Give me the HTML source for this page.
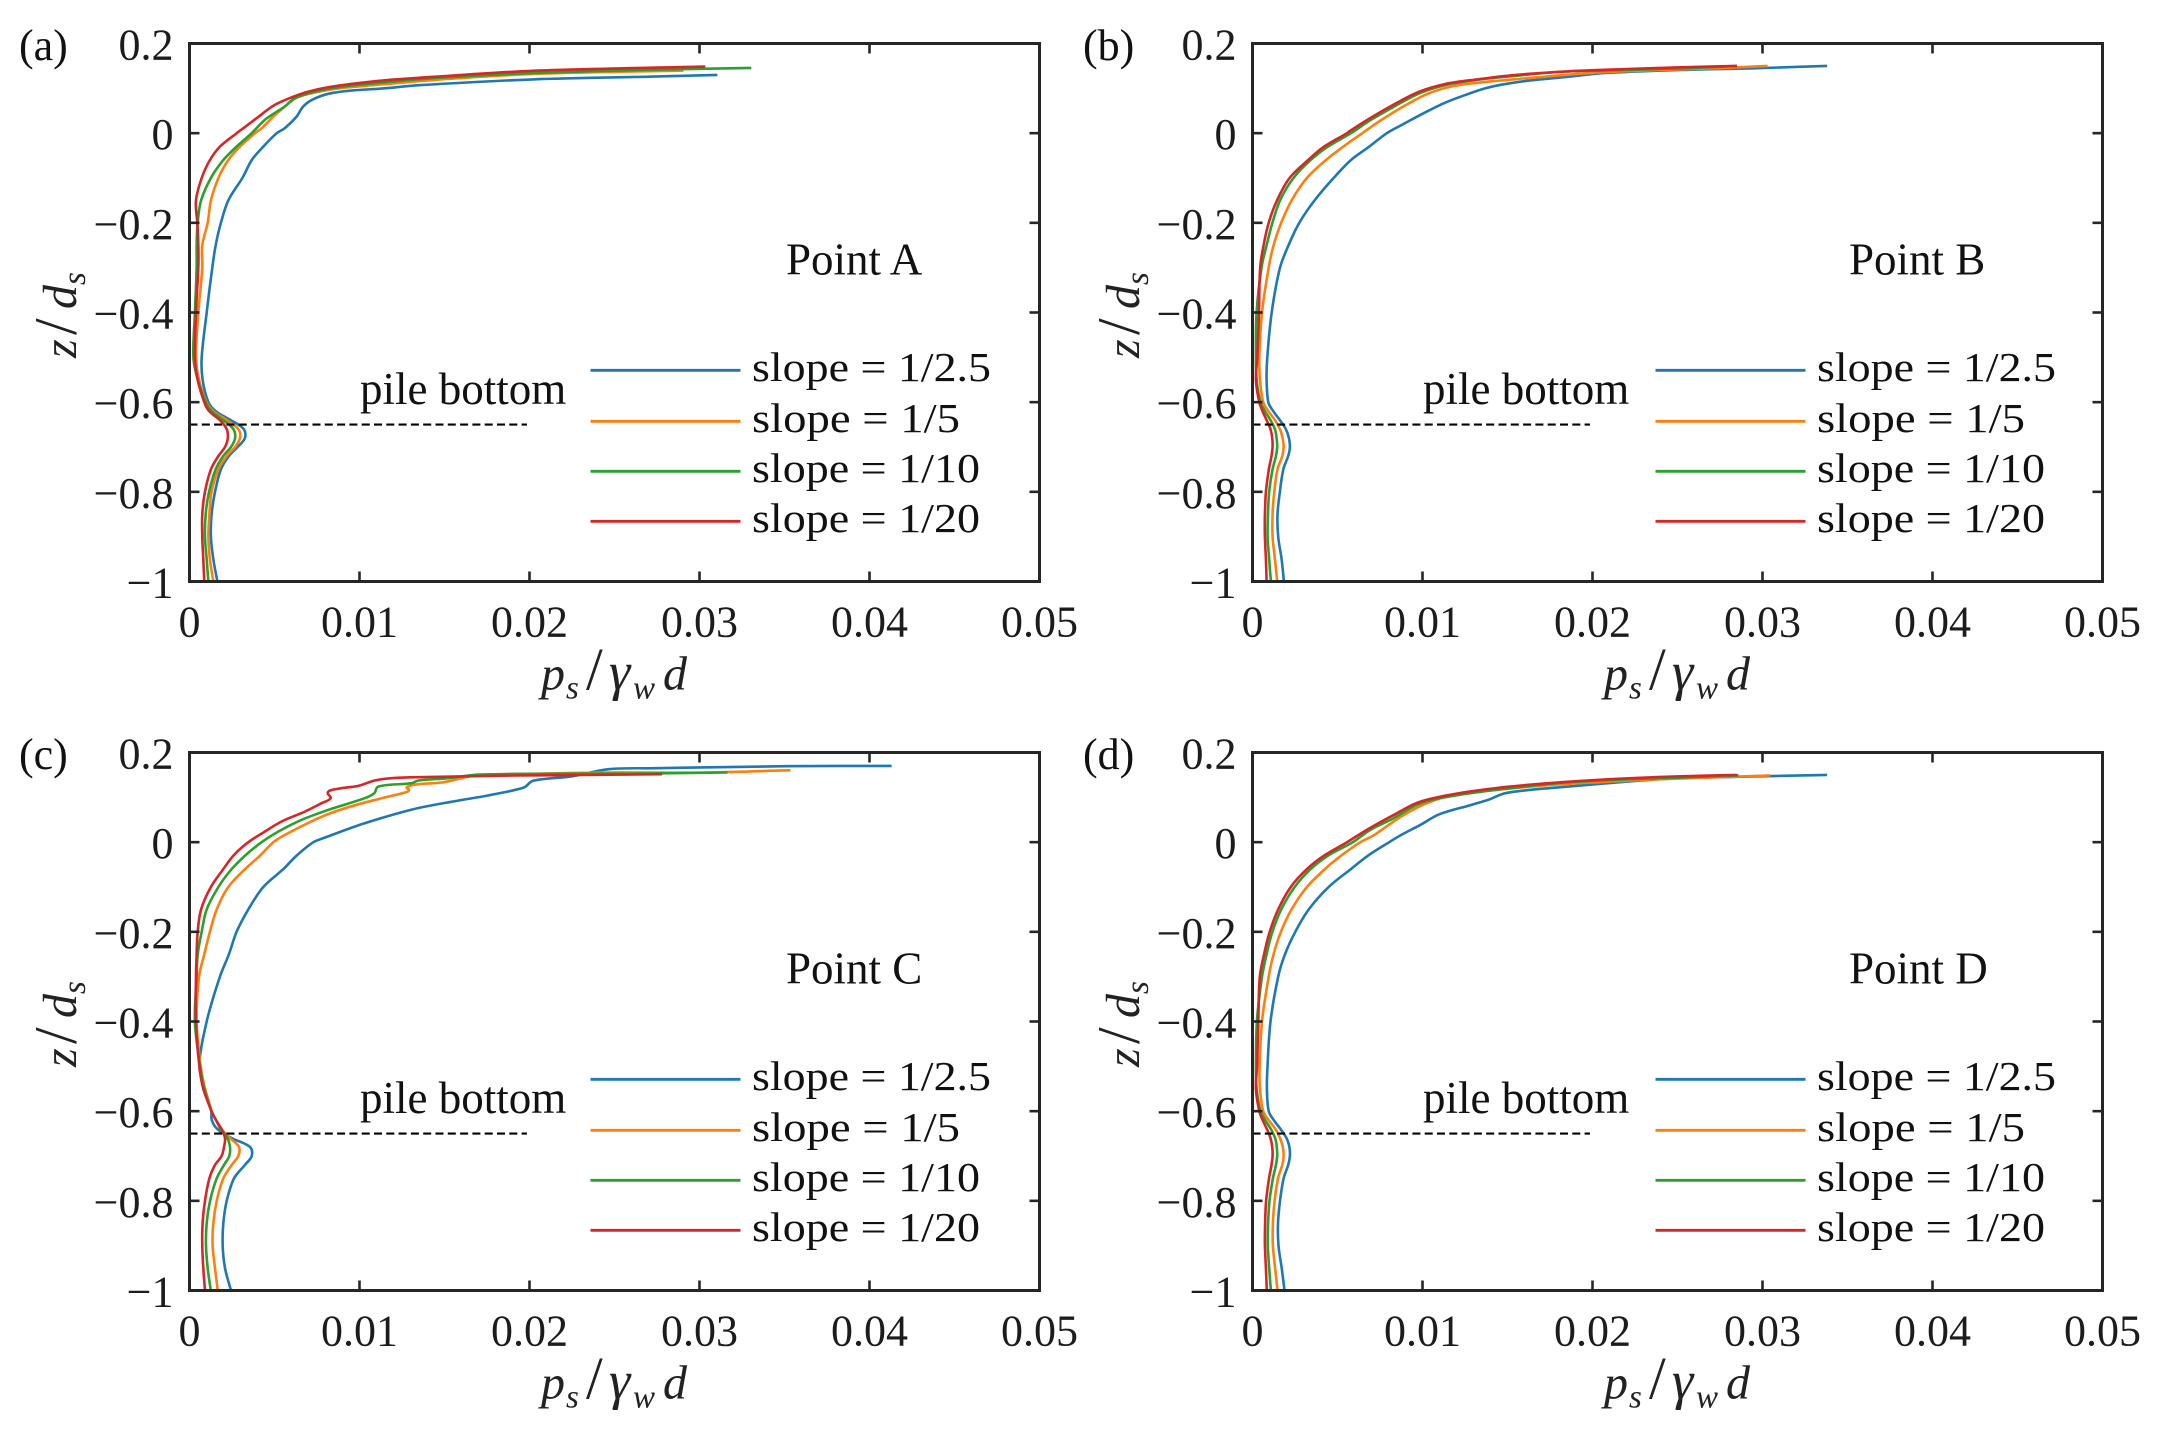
<!DOCTYPE html>
<html lang="en">
<head>
<meta charset="utf-8">
<title>Pile pressure profiles</title>
<style>
html,body{margin:0;padding:0;background:#fff;}
svg{display:block;}
text{font-family:"Liberation Serif",serif;fill:#111;}
.tick{font-size:44px;fill:#1c1c1c;}
.note{font-size:44px;}
.pt{font-size:45px;}
.pile{font-size:45px;}
.leg{font-size:41px;}
.it{font-style:italic;font-size:48px;fill:#222;}
.gam{font-style:italic;font-size:54px;fill:#222;}
.sub{font-style:italic;font-size:33px;fill:#222;}
.sl{font-size:60px;fill:#222;}
</style>
</head>
<body>
<svg id="figure" xmlns="http://www.w3.org/2000/svg" width="2159" height="1429" viewBox="0 0 2159 1429">
<rect width="2159" height="1429" fill="#fff"/>

<g id="panel-a" transform="translate(0,0)">
  <text class="note" x="19" y="60">(a)</text>
  <text class="pt" x="786" y="274.5">Point A</text>
  <text class="pile" x="360" y="404">pile bottom</text>
  <text class="leg" x="752" y="381" textLength="239" lengthAdjust="spacingAndGlyphs">slope = 1/2.5</text>
  <text class="leg" x="752" y="432" textLength="208" lengthAdjust="spacingAndGlyphs">slope = 1/5</text>
  <text class="leg" x="752" y="482" textLength="228" lengthAdjust="spacingAndGlyphs">slope = 1/10</text>
  <text class="leg" x="752" y="532" textLength="228" lengthAdjust="spacingAndGlyphs">slope = 1/20</text>
  <text y="689.5"><tspan class="it" x="541">p</tspan><tspan class="sub" x="566" dy="9">s</tspan><tspan class="sl" x="586" dy="-9">/</tspan><tspan class="gam" x="609">γ</tspan><tspan class="sub" x="633" dy="9">w</tspan><tspan class="it" x="663" dy="-9">d</tspan></text>
  <text transform="translate(76,358) rotate(-90)"><tspan class="it" x="0" y="0">z</tspan><tspan class="sl" x="23">/</tspan><tspan class="it" x="49">d</tspan><tspan class="sub" x="73" dy="9">s</tspan></text>
</g>

<g id="panel-b" transform="translate(1063,0)">
  <text class="note" x="20" y="60">(b)</text>
  <text class="pt" x="786" y="274.5">Point B</text>
  <text class="pile" x="360" y="404">pile bottom</text>
  <text class="leg" x="754" y="381" textLength="239" lengthAdjust="spacingAndGlyphs">slope = 1/2.5</text>
  <text class="leg" x="754" y="432" textLength="208" lengthAdjust="spacingAndGlyphs">slope = 1/5</text>
  <text class="leg" x="754" y="482" textLength="228" lengthAdjust="spacingAndGlyphs">slope = 1/10</text>
  <text class="leg" x="754" y="532" textLength="228" lengthAdjust="spacingAndGlyphs">slope = 1/20</text>
  <text y="689.5"><tspan class="it" x="541">p</tspan><tspan class="sub" x="566" dy="9">s</tspan><tspan class="sl" x="586" dy="-9">/</tspan><tspan class="gam" x="609">γ</tspan><tspan class="sub" x="633" dy="9">w</tspan><tspan class="it" x="663" dy="-9">d</tspan></text>
  <text transform="translate(76,358) rotate(-90)"><tspan class="it" x="0" y="0">z</tspan><tspan class="sl" x="23">/</tspan><tspan class="it" x="49">d</tspan><tspan class="sub" x="73" dy="9">s</tspan></text>
</g>

<g id="panel-c" transform="translate(0,709)">
  <text class="note" x="19" y="60">(c)</text>
  <text class="pt" x="786" y="274.5">Point C</text>
  <text class="pile" x="360" y="404">pile bottom</text>
  <text class="leg" x="752" y="381" textLength="239" lengthAdjust="spacingAndGlyphs">slope = 1/2.5</text>
  <text class="leg" x="752" y="432" textLength="208" lengthAdjust="spacingAndGlyphs">slope = 1/5</text>
  <text class="leg" x="752" y="482" textLength="228" lengthAdjust="spacingAndGlyphs">slope = 1/10</text>
  <text class="leg" x="752" y="532" textLength="228" lengthAdjust="spacingAndGlyphs">slope = 1/20</text>
  <text y="689.5"><tspan class="it" x="541">p</tspan><tspan class="sub" x="566" dy="9">s</tspan><tspan class="sl" x="586" dy="-9">/</tspan><tspan class="gam" x="609">γ</tspan><tspan class="sub" x="633" dy="9">w</tspan><tspan class="it" x="663" dy="-9">d</tspan></text>
  <text transform="translate(76,358) rotate(-90)"><tspan class="it" x="0" y="0">z</tspan><tspan class="sl" x="23">/</tspan><tspan class="it" x="49">d</tspan><tspan class="sub" x="73" dy="9">s</tspan></text>
</g>

<g id="panel-d" transform="translate(1063,709)">
  <text class="note" x="20" y="60">(d)</text>
  <text class="pt" x="786" y="274.5">Point D</text>
  <text class="pile" x="360" y="404">pile bottom</text>
  <text class="leg" x="754" y="381" textLength="239" lengthAdjust="spacingAndGlyphs">slope = 1/2.5</text>
  <text class="leg" x="754" y="432" textLength="208" lengthAdjust="spacingAndGlyphs">slope = 1/5</text>
  <text class="leg" x="754" y="482" textLength="228" lengthAdjust="spacingAndGlyphs">slope = 1/10</text>
  <text class="leg" x="754" y="532" textLength="228" lengthAdjust="spacingAndGlyphs">slope = 1/20</text>
  <text y="689.5"><tspan class="it" x="541">p</tspan><tspan class="sub" x="566" dy="9">s</tspan><tspan class="sl" x="586" dy="-9">/</tspan><tspan class="gam" x="609">γ</tspan><tspan class="sub" x="633" dy="9">w</tspan><tspan class="it" x="663" dy="-9">d</tspan></text>
  <text transform="translate(76,358) rotate(-90)"><tspan class="it" x="0" y="0">z</tspan><tspan class="sl" x="23">/</tspan><tspan class="it" x="49">d</tspan><tspan class="sub" x="73" dy="9">s</tspan></text>
</g>
</svg>

<script>
// Pressure values are in units of 1e-3 (p_s / gamma_w d); depth is z / d_s.
const pTicks = [0, 10, 20, 30, 40, 50];
const pTickLabels = ['0', '0.01', '0.02', '0.03', '0.04', '0.05'];
const zTicks = [0.2, 0, -0.2, -0.4, -0.6, -0.8, -1];
const zTickLabels = ['0.2', '0', '\u22120.2', '\u22120.4', '\u22120.6', '\u22120.8', '\u22121'];
const slopeNames = ['1-2-5', '1-5', '1-10', '1-20'];
const pileBottomZ = -0.65;
const pileBottomP = [0, 19.85];

// Depth grid shared by the lower part of all curves
const zLower = [0,-0.03,-0.06,-0.1,-0.15,-0.2,-0.25,-0.3,-0.4,-0.5,-0.55,-0.6,-0.62,-0.64,-0.66,-0.68,-0.7,-0.72,-0.75,-0.8,-0.85,-0.9,-0.95,-1];

// Panel A
const a25zTop = [.130,.126,.120,.107,.100,.095,.088,.076,.06,.037,.011];
const a25pTop = [31.05,27,20.2,13.5,11.5,9.5,8.2,7.3,6.7,6.3,5.6];
const a25pLow = [5.13,4.34,3.66,3.11,2.28,1.85,1.54,1.34,1.01,.72,.77,1.11,1.54,2.42,3.19,3.26,2.83,2.32,1.85,1.5,1.3,1.26,1.4,1.64];
const a5zTop = [.1396,.132,.119,.108,.1,.091,.079,.056,.037,.011];
const a5pTop = [29.06,20.2,14.5,11.1,8.8,7.4,6.3,5.5,4.93,4.25];
const a5pLow = [3.85,2.97,2.28,1.7,1.26,1.07,.75,.75,.52,.38,.56,1.0,1.4,2.19,2.87,2.97,2.68,2.19,1.7,1.3,1.17,1.11,1.2,1.4];
const a10zTop = [.1455,.1427,.134,.123,.112,.1026,.0928,.078,.0595,.03];
const a10pTop = [33.05,28.8,20.2,14.5,11.1,8.8,7.4,6.2,5.6,4.44];
const a10pLow = [3.66,2.77,1.99,1.26,.68,.48,.42,.42,.32,.23,.48,.95,1.3,1.99,2.58,2.68,2.44,1.99,1.54,1.15,.95,.91,1.01,1.11];
const a20zTop = [.1485,.139,.126,.1166,.106,.0965,.0855,.0632,.0334,.011];
const a20pTop = [30.34,20.2,14.5,11.1,8.8,7.4,6.4,5.03,3.95,3.17];
const a20pLow = [2.77,1.79,1.2,.72,.38,.46,.52,.52,.38,.32,.48,.87,1.15,1.79,2.19,2.25,2.09,1.7,1.26,.91,.75,.75,.81,.87];

// Panel B
const b25zTop = [.15,.145,.141,.134,.125,.1167,.1078,.1,.0855,.0691,.0446,.0171];
const b25pTop = [33.8,29.66,25.2,20.65,18.4,16.15,14.6,13.7,12.55,11.4,10.07,8.72];
const b25pLow = [7.9,6.87,5.79,4.77,3.65,2.75,2.12,1.62,1.13,.87,.83,.93,1.22,1.61,1.96,2.14,2.2,2.1,1.81,1.61,1.47,1.51,1.71,1.85];
const b5zTop = [.15,.145,.141,.136,.13,.1226,.115,.1055,.0877,.061,.0297];
const b5pTop = [30.3,27.4,24,20.65,18.4,16.15,13.9,11.87,10.3,8.94,7.59];
const b5pLow = [6.46,5.34,4.32,3.2,2.3,1.69,1.24,.95,.56,.4,.44,.63,.93,1.32,1.61,1.77,1.83,1.75,1.47,1.28,1.18,1.18,1.32,1.45];
const b10zTop = [.15,.145,.141,.1375,.128,.119,.1078,.0892,.058,.0282];
const b10pTop = [28.5,25.4,21.8,18.4,15.5,13.2,11.4,9.84,8.27,6.9];
const b10pLow = [5.79,4.44,3.42,2.41,1.62,1.17,.83,.53,.24,.2,.24,.47,.73,1.06,1.32,1.42,1.45,1.38,1.18,.98,.91,.89,.98,1.08];
const b20zTop = [.15,.147,.1427,.1375,.13,.12,.11,.093,.063,.033,.0037];
const b20pTop = [28.5,25.2,21.8,18.4,15.5,13.2,11.4,9.84,8.27,6.9,5.68];
const b20pLow = [5.56,4.21,3.27,2.18,1.44,.95,.65,.45,.38,.28,.2,.4,.59,.83,1.06,1.16,1.18,1.12,.96,.79,.73,.73,.79,.83];

// Panel C
const c25zTop = [.1702,.1695,.165,.1628,.147,.1368,.122,.105,.09,.0728,.0416,.0104];
const c25pTop = [41.3,35.06,27.4,24.66,22.5,20.2,19.67,17.67,15.4,13.1,10.26,7.98];
const c25pLow = [7.29,6.3,5.52,4.34,3.46,2.77,2.32,1.79,1.01,.58,.91,1.28,1.31,1.64,2.48,3.56,3.66,3.26,2.62,2.19,1.99,1.95,2.09,2.44];
const c5zTop = [.1605,.1553,.1553,.153,.15,.1427,.133,.1293,.1226,.1152,.1107,.098,.0758,.0535,.0164];
const c5pTop = [35.35,30.2,24.5,20.8,17,16,14.83,13.46,12.78,12.91,12.68,11.3,9.15,7.58,5.62];
const c5pLow = [4.93,4.15,3.27,2.28,1.6,1.2,.87,.56,.42,.66,.91,1.3,1.56,1.89,2.38,2.91,2.87,2.48,1.99,1.6,1.4,1.36,1.5,1.66];
const c10zTop = [.1553,.153,.151,.1427,.1375,.1316,.124,.1093,.098,.0721,.0498,.0238];
const c10pTop = [31.65,26.7,17.1,15.2,13.46,13.07,11.1,10.87,10.3,8.17,6.6,5.23];
const c10pLow = [4.24,3.27,2.48,1.7,1.01,.72,.48,.42,.32,.62,.87,1.28,1.56,1.83,2.23,2.38,2.34,2.03,1.6,1.21,1.01,.97,1.07,1.25];
const c20zTop = [.1516,.1494,.1486,.145,.1427,.1375,.1256,.1204,.1152,.1093,.098,.087,.0684,.0461,.0238];
const c20pTop = [27.8,21.67,19.15,13.46,11.9,10.9,9.93,8.95,8.27,8.13,8.3,7.77,6.8,5.42,4.44];
const c20pLow = [3.46,2.58,1.99,1.26,.68,.48,.42,.38,.38,.58,.81,1.3,1.56,1.89,2.09,2.03,1.89,1.5,1.17,.91,.77,.75,.81,.91];

// Panel D
const d25zTop = [.15,.1457,.142,.1345,.1234,.116,.1085,.095,.0825,.0624,.0379,.0156];
const d25pTop = [33.8,28.5,24.7,21.8,18.4,16.15,14.8,13.9,12.8,11,9.84,8.72];
const d25pLow = [8.04,6.8,5.79,4.48,3.31,2.52,1.91,1.51,1.06,.88,.85,.95,1.25,1.65,2.0,2.17,2.2,2.1,1.83,1.62,1.5,1.53,1.72,1.88];
const d5zTop = [.149,.1442,.14,.1345,.127,.1174,.1063,.084,.0565,.0156];
const d5pTop = [30.45,27,23.6,20.65,17.3,14.6,11.9,10.07,8.72,7.14];
const d5pLow = [6.35,5.22,4.26,3.2,2.3,1.67,1.24,.95,.56,.42,.44,.63,.95,1.35,1.62,1.78,1.83,1.75,1.5,1.3,1.2,1.2,1.33,1.47];
const d10zTop = [.149,.144,.14,.133,.1197,.1063,.0862,.0528,.0268];
const d10pTop = [28.6,25.2,21.8,18.4,15,12.3,9.84,8.27,6.9];
const d10pLow = [5.9,4.44,3.42,2.48,1.69,1.17,.83,.56,.26,.2,.24,.47,.75,1.08,1.33,1.43,1.45,1.38,1.2,1.0,.92,.9,.98,1.08];
const d20zTop = [.15,.147,.142,.1345,.1234,.11,.09,.06,.0268];
const d20pTop = [28.5,25.2,21.8,18.4,15,12.3,9.84,8.27,6.69];
const d20pLow = [5.56,4.21,3.2,2.25,1.51,1.01,.68,.43,.34,.27,.2,.4,.6,.85,1.06,1.16,1.18,1.12,.97,.8,.74,.73,.79,.84];

const seriesColors = ['#1f77b4', '#ff7f0e', '#2ca02c', '#d62728'];

const panelA = [[a25zTop,a25pTop,a25pLow],[a5zTop,a5pTop,a5pLow],[a10zTop,a10pTop,a10pLow],[a20zTop,a20pTop,a20pLow]];
const panelB = [[b25zTop,b25pTop,b25pLow],[b5zTop,b5pTop,b5pLow],[b10zTop,b10pTop,b10pLow],[b20zTop,b20pTop,b20pLow]];
const panelC = [[c25zTop,c25pTop,c25pLow],[c5zTop,c5pTop,c5pLow],[c10zTop,c10pTop,c10pLow],[c20zTop,c20pTop,c20pLow]];
const panelD = [[d25zTop,d25pTop,d25pLow],[d5zTop,d5pTop,d5pLow],[d10zTop,d10pTop,d10pLow],[d20zTop,d20pTop,d20pLow]];

const NS = 'http://www.w3.org/2000/svg';
const axisLeft = 189.5, axisRight = 1039.5, axisTop = 43.5, axisBottom = 581.5;
function xScale(p) { return axisLeft + (p / 50) * (axisRight - axisLeft); }
function zScale(z) { return axisBottom - ((z + 1) / 1.2) * (axisBottom - axisTop); }

function make(tag, attrs, parent) {
  const el = document.createElementNS(NS, tag);
  for (const k in attrs) el.setAttribute(k, attrs[k]);
  parent.appendChild(el);
  return el;
}

// Smooth path through the read points; tangent length follows segment length so nothing overshoots.
function smoothPath(pts) {
  function dir(i) {
    const a = pts[Math.max(i - 1, 0)], b = pts[Math.min(i + 1, pts.length - 1)];
    const dx = b[0] - a[0], dy = b[1] - a[1], n = Math.hypot(dx, dy) || 1;
    return [dx / n, dy / n];
  }
  let d = 'M' + pts[0][0].toFixed(1) + ' ' + pts[0][1].toFixed(1);
  for (let i = 0; i < pts.length - 1; i++) {
    const p = pts[i], q = pts[i + 1], len = Math.hypot(q[0] - p[0], q[1] - p[1]) / 3;
    const u = dir(i), v = dir(i + 1);
    d += 'C' + (p[0] + u[0] * len).toFixed(1) + ' ' + (p[1] + u[1] * len).toFixed(1) + ' ' +
         (q[0] - v[0] * len).toFixed(1) + ' ' + (q[1] - v[1] * len).toFixed(1) + ' ' +
         q[0].toFixed(1) + ' ' + q[1].toFixed(1);
  }
  return d;
}

function drawPanel(groupId, panelSeries, legendShift) {
  const g = document.getElementById(groupId);

  panelSeries.forEach(function (s, i) {
    const zs = s[0].concat(zLower);
    const ps = s[1].concat(s[2]);
    const pts = zs.map(function (z, k) { return [xScale(ps[k]), zScale(z)]; });
    const line = make('path', {d: smoothPath(pts), fill: 'none', stroke: seriesColors[i], 'stroke-width': 2.6, 'stroke-linejoin': 'round'}, g);
    
    

    const ly = [370.3, 421.3, 471.3, 521.3][i];
    const key = make('line', {x1: 590.5 + legendShift, x2: 740.5 + legendShift, y1: ly, y2: ly, stroke: seriesColors[i], 'stroke-width': 2.8}, g);
    
    
  });

  const dash = make('line', {x1: xScale(pileBottomP[0]), x2: xScale(pileBottomP[1]), y1: zScale(pileBottomZ), y2: zScale(pileBottomZ), stroke: '#000', 'stroke-width': 2.2, 'stroke-dasharray': '8 4.3'}, g);
  
  

  pTicks.forEach(function (p, i) {
    const x = xScale(p);
    const t1 = make('line', {x1: x, x2: x, y1: axisBottom, y2: axisBottom - 10, stroke: '#262626', 'stroke-width': 2.6}, g);
    
    
    const t2 = make('line', {x1: x, x2: x, y1: axisTop, y2: axisTop + 10, stroke: '#262626', 'stroke-width': 2.6}, g);
    
    
    const lab = make('text', {x: x, y: 636.5, 'text-anchor': 'middle', 'class': 'tick'}, g);
    lab.textContent = pTickLabels[i];
    
    
  });

  zTicks.forEach(function (z, i) {
    const y = zScale(z);
    const t1 = make('line', {x1: axisLeft, x2: axisLeft + 10, y1: y, y2: y, stroke: '#262626', 'stroke-width': 2.6}, g);
    
    
    const t2 = make('line', {x1: axisRight, x2: axisRight - 10, y1: y, y2: y, stroke: '#262626', 'stroke-width': 2.6}, g);
    
    
    const lab = make('text', {x: 173.5, y: y + 16, 'text-anchor': 'end', 'class': 'tick'}, g);
    lab.textContent = zTickLabels[i];
    
    
  });

  const frame = make('rect', {x: axisLeft, y: axisTop, width: axisRight - axisLeft, height: axisBottom - axisTop, fill: 'none', stroke: '#262626', 'stroke-width': 3}, g);
  
  
}

drawPanel('panel-a', panelA, 0);
drawPanel('panel-b', panelB, 2);
drawPanel('panel-c', panelC, 0);
drawPanel('panel-d', panelD, 2);
</script>
</body>
</html>
